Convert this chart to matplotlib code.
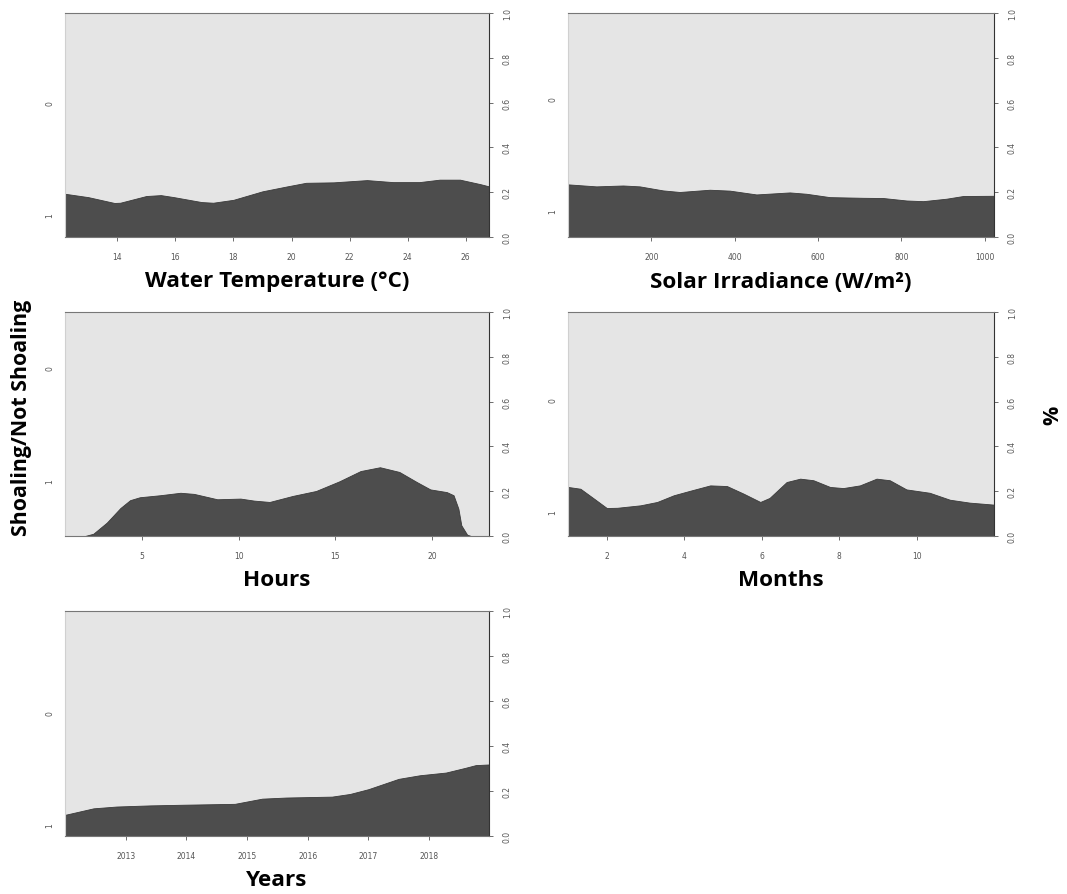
import matplotlib
matplotlib.use("Agg")
import matplotlib.pyplot as plt

# --- data (x value, proportion of class "1") ---
temp_x = [12.2, 13.0, 13.9, 14.1, 15.0, 15.5, 15.95, 16.9, 17.3, 18.0, 19.0, 19.85,
          20.5, 21.45, 22.6, 23.5, 24.4, 25.1, 25.8, 26.5, 26.8]
temp_y = [0.193, 0.178, 0.152, 0.153, 0.183, 0.187, 0.178, 0.156, 0.153, 0.166, 0.204,
          0.226, 0.242, 0.244, 0.254, 0.245, 0.245, 0.256, 0.256, 0.236, 0.226]

solar_x = [0, 68, 132, 172, 228, 268, 340, 388, 452, 532, 572, 628, 708, 756, 812,
           852, 908, 948, 1022]
solar_y = [0.235, 0.226, 0.230, 0.226, 0.208, 0.201, 0.211, 0.207, 0.190, 0.199, 0.193,
           0.178, 0.175, 0.174, 0.163, 0.160, 0.171, 0.183, 0.184]

hours_x = [1.04, 2.07, 2.5, 3.2, 3.9, 4.4, 4.9, 5.95, 7.0, 7.7, 8.9, 10.1, 10.8, 11.6,
           12.8, 14.0, 15.2, 16.3, 17.3, 18.3, 19.2, 19.9, 20.75, 21.1, 21.35, 21.5,
           21.8, 22.0, 22.93]
hours_y = [0.0, 0.0, 0.01, 0.06, 0.125, 0.16, 0.173, 0.182, 0.193, 0.188, 0.164, 0.167,
           0.158, 0.152, 0.179, 0.201, 0.244, 0.290, 0.307, 0.286, 0.241, 0.208, 0.196,
           0.182, 0.122, 0.048, 0.006, 0.0, 0.0]

month_x = [1.0, 1.32, 1.67, 2.0, 2.27, 2.87, 3.3, 3.73, 4.15, 4.67, 5.1, 5.53, 5.96,
           6.2, 6.64, 6.99, 7.33, 7.76, 8.1, 8.53, 8.96, 9.3, 9.73, 10.33, 10.85,
           11.36, 11.99]
month_y = [0.219, 0.211, 0.167, 0.125, 0.126, 0.137, 0.152, 0.182, 0.202, 0.226, 0.223,
           0.189, 0.152, 0.170, 0.241, 0.256, 0.249, 0.219, 0.214, 0.226, 0.256, 0.249,
           0.208, 0.193, 0.162, 0.149, 0.140]

year_x = [2012.0, 2012.47, 2012.85, 2013.4, 2013.95, 2014.8, 2015.25, 2015.65, 2016.4,
          2016.7, 2017.0, 2017.5, 2017.85, 2018.28, 2018.6, 2018.77, 2018.99]
year_y = [0.094, 0.123, 0.131, 0.136, 0.139, 0.143, 0.166, 0.171, 0.175, 0.187, 0.208,
          0.254, 0.270, 0.282, 0.303, 0.315, 0.318]

# panel: (x, y, xlim, xticks, xlabel, left label pos for "0" and "1")
PANELS = [
    (temp_x, temp_y, (12.2, 26.8), [14, 16, 18, 20, 22, 24, 26],
     "Water Temperature (°C)", (0.60, 0.10)),
    (solar_x, solar_y, (0, 1022), [200, 400, 600, 800, 1000],
     "Solar Irradiance (W/m²)", (0.616, 0.116)),
    (hours_x, hours_y, (1.04, 22.93), [5, 10, 15, 20],
     "Hours", (0.75, 0.245)),
    (month_x, month_y, (1.0, 11.99), [2, 4, 6, 8, 10],
     "Months", (0.61, 0.107)),
    (year_x, year_y, (2012.0, 2018.99), [2013, 2014, 2015, 2016, 2017, 2018],
     "Years", (0.55, 0.05)),
]

# axes boxes in pixels: left, top, right, bottom
BOXES = [(65, 14, 489, 238), (568, 14, 994, 238),
         (65, 313, 489, 537), (568, 313, 994, 537),
         (65, 612, 489, 837)]

W, H = 1067, 895
LIGHT = "#e5e5e5"
DARK = "#4d4d4d"
TICK_C = "#555555"

fig = plt.figure(figsize=(W / 100, H / 100), dpi=100)
label_font = {"family": ["Open Sans", "DejaVu Sans"], "weight": "bold", "size": 16.2}

for (xs, ys, xlim, xticks, xlabel, lpos), (l, t, r, b) in zip(PANELS, BOXES):
    ax = fig.add_axes([l / W, (H - b) / H, (r - l) / W, (b - t) / H])
    ax.set_facecolor(LIGHT)
    ax.fill_between(xs, 0, ys, color=DARK, linewidth=0.6, edgecolor="#3a3a3a")
    ax.set_xlim(*xlim)
    ax.set_ylim(0, 1)

    ax.set_xticks(xticks)
    ax.set_xticklabels([str(v) for v in xticks])
    ax.yaxis.tick_right()
    ax.set_yticks([0, 0.2, 0.4, 0.6, 0.8, 1.0])
    ax.set_yticklabels(["0.0", "0.2", "0.4", "0.6", "0.8", "1.0"], rotation=90,
                       va="center")
    ax.tick_params(axis="both", labelsize=5.5, colors=TICK_C, length=3, width=0.6,
                   pad=7)
    ax.tick_params(axis="x", pad=8)

    for side, sp in ax.spines.items():
        sp.set_color("#777777")
        sp.set_linewidth(0.8)
    ax.spines["right"].set_color("#333333")
    ax.spines["left"].set_color("#d0d0d0")

    # class labels on the left side
    ax.text(-0.035, lpos[0], "0", transform=ax.transAxes, rotation=90,
            ha="center", va="center", fontsize=5.5, color=TICK_C)
    ax.text(-0.035, lpos[1], "1", transform=ax.transAxes, rotation=90,
            ha="center", va="center", fontsize=5.5, color=TICK_C)

    fig.text((l + r) / 2 / W, 1 - (b + 44) / H, xlabel, ha="center", va="center",
             fontdict=label_font)

yfont = dict(label_font, size=15.4)
fig.text(22 / W, 1 - 418 / H, "Shoaling/Not Shoaling", rotation=90, ha="center",
         va="center", fontdict=yfont)
fig.text(1053 / W, 1 - 415 / H, "%", rotation=90, ha="center", va="center",
         fontdict=yfont)

fig.savefig("out.png", dpi=100, facecolor="white")
